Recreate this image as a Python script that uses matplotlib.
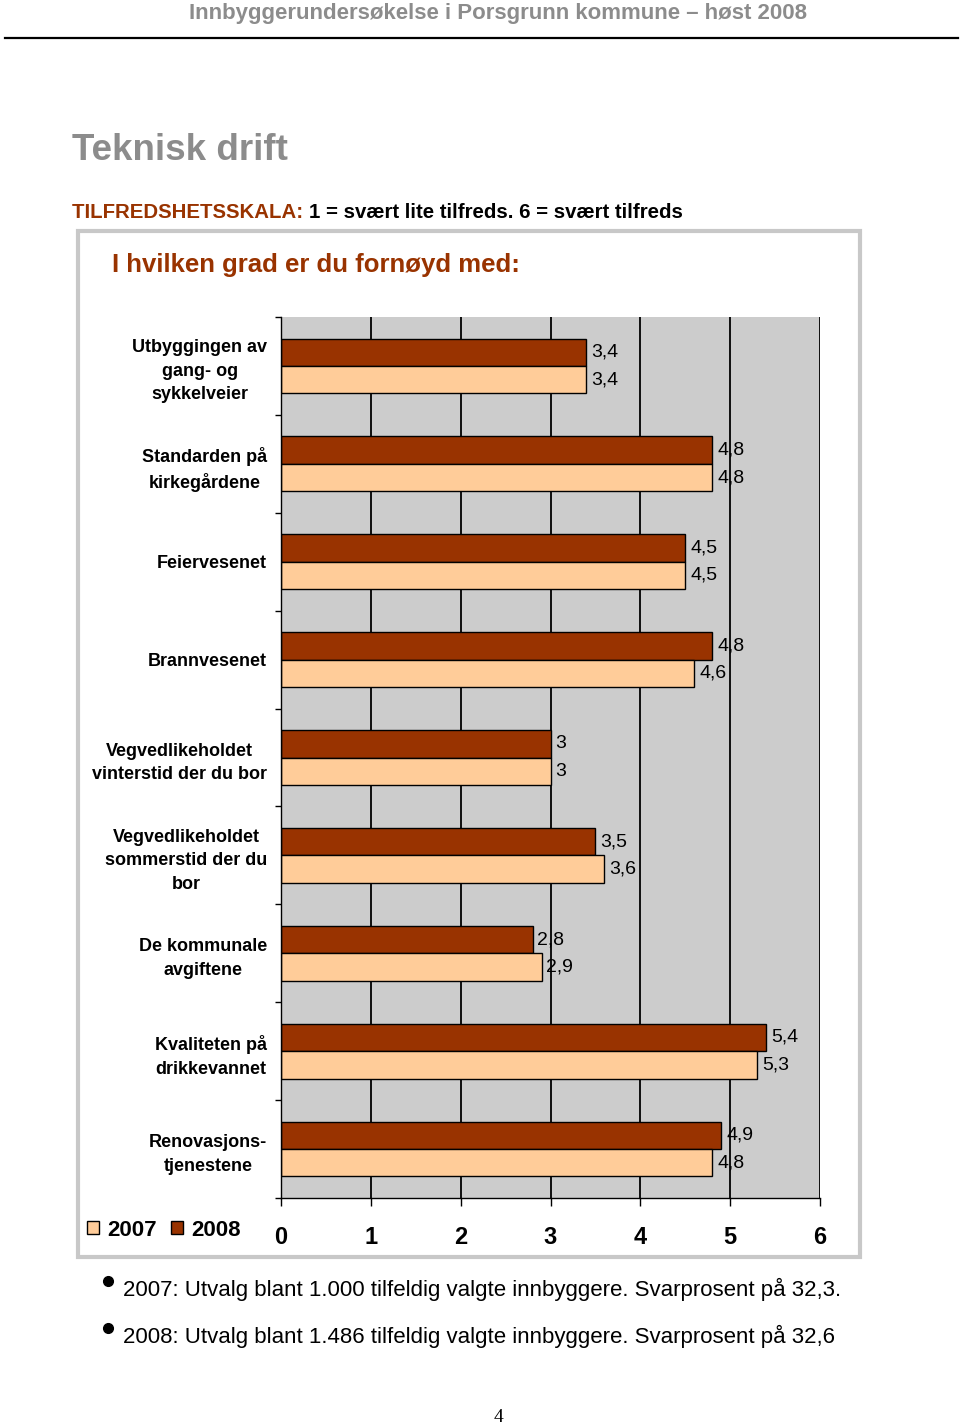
import matplotlib.pyplot as plt
from matplotlib.patches import Rectangle
from matplotlib.lines import Line2D

plt.rcParams["font.family"] = ["Liberation Sans", "DejaVu Sans"]

categories = [
    "Utbyggingen av\ngang- og\nsykkelveier",
    "Standarden på\nkirkegårdene",
    "Feiervesenet",
    "Brannvesenet",
    "Vegvedlikeholdet\nvinterstid der du bor",
    "Vegvedlikeholdet\nsommerstid der du\nbor",
    "De kommunale\navgiftene",
    "Kvaliteten på\ndrikkevannet",
    "Renovasjons-\ntjenestene",
]
v2008 = [3.4, 4.8, 4.5, 4.8, 3.0, 3.5, 2.8, 5.4, 4.9]
v2007 = [3.4, 4.8, 4.5, 4.6, 3.0, 3.6, 2.9, 5.3, 4.8]
xticks = [0, 1, 2, 3, 4, 5, 6]

c2008 = "#993300"
c2007 = "#FFCC99"
brown = "#993300"
grey_txt = "#8C8C8C"

W, H = 960, 1428


def fx(px):
    return px / W


def fy(py):
    return 1 - py / H


def fmt(v):
    s = ("%.1f" % v).replace(".", ",")
    return s[:-2] if s.endswith(",0") else s


fig = plt.figure(figsize=(9.6, 14.28), dpi=100)

# page header
fig.text(fx(498), fy(13), "Innbyggerundersøkelse i Porsgrunn kommune – høst 2008",
         ha="center", va="center", fontsize=16, fontweight="bold", color=grey_txt)
fig.add_artist(Line2D([fx(5), fx(958)], [fy(38), fy(38)], color="black", lw=1.6))

fig.text(fx(72), fy(150), "Teknisk drift", ha="left", va="center",
         fontsize=26.5, fontweight="bold", color=grey_txt)

t1 = fig.text(fx(72), fy(212), "TILFREDSHETSSKALA: ", ha="left", va="center",
              fontsize=14.7, fontweight="bold", color=brown)

# chart frame
fig.add_artist(Rectangle((fx(78), fy(1257)), fx(860) - fx(78), fy(231) - fy(1257),
                         transform=fig.transFigure, fill=False,
                         edgecolor="#C8C8C8", lw=3))

fig.text(fx(112), fy(265), "I hvilken grad er du fornøyd med:", ha="left", va="center",
         fontsize=18.5, fontweight="bold", color=brown)

ax = fig.add_axes([fx(281), fy(1198), fx(820) - fx(281), fy(317) - fy(1198)])
ax.set_facecolor("#CCCCCC")

ax.annotate("1 = svært lite tilfreds. 6 = svært tilfreds", xy=(1, 0.5),
            xycoords=t1, va="center", ha="left", fontsize=14.7,
            fontweight="bold", color="black", annotation_clip=False)

pos = list(range(len(categories)))
h = 0.28
b08 = ax.barh([p - h / 2 for p in pos], v2008, height=h, color=c2008,
              edgecolor="black", lw=1, label="2008")
b07 = ax.barh([p + h / 2 for p in pos], v2007, height=h, color=c2007,
              edgecolor="black", lw=1, label="2007")
ax.bar_label(b08, labels=[fmt(v) for v in v2008], padding=3.5, fontsize=14)
ax.bar_label(b07, labels=[fmt(v) for v in v2007], padding=3.5, fontsize=14)

ax.set_xlim(0, 6)
ax.set_ylim(len(categories) - 0.5, -0.5)
ax.set_xticks(xticks)
ax.set_xticklabels([str(t) for t in xticks], fontsize=17, fontweight="bold")
ax.xaxis.grid(True, color="black", lw=1.3)
ax.set_axisbelow(True)
ax.tick_params(axis="x", direction="out", length=6, width=1, pad=14)

ax.set_yticks(pos)
ax.set_yticklabels(categories, fontsize=13, fontweight="bold", linespacing=1.5)
for lab in ax.get_yticklabels():
    lab.set_multialignment("center")
ax.set_yticks([p - 0.5 for p in range(len(categories) + 1)], minor=True)
ax.tick_params(axis="y", which="major", length=0, pad=10)
ax.tick_params(axis="y", which="minor", length=4.5, width=1, direction="out")

for s in ["top", "right"]:
    ax.spines[s].set_visible(False)
ax.spines["left"].set_linewidth(1)
ax.spines["bottom"].set_linewidth(1)

fig.legend(handles=[b07, b08], labels=["2007", "2008"], loc="center left",
           bbox_to_anchor=(fx(87), fy(1230)), bbox_transform=fig.transFigure,
           ncol=2, frameon=False, borderpad=0, borderaxespad=0,
           handlelength=0.55, handleheight=0.55, handletextpad=0.35,
           columnspacing=0.65, prop={"weight": "bold", "size": 16})

# notes below chart
notes = [
    "2007: Utvalg blant 1.000 tilfeldig valgte innbyggere. Svarprosent på 32,3.",
    "2008: Utvalg blant 1.486 tilfeldig valgte innbyggere. Svarprosent på 32,6",
]
for i, n in enumerate(notes):
    y = 1289 + i * 47
    fig.add_artist(Line2D([fx(108)], [fy(y - 8)], marker="o", markersize=7,
                          color="black", lw=0))
    fig.text(fx(123), fy(y), n, ha="left", va="center", fontsize=16, color="black")

fig.text(fx(498), fy(1418), "4", ha="center", va="center", fontsize=14,
         family=["Liberation Serif", "DejaVu Serif"])

fig.savefig("out.png", dpi=100)
